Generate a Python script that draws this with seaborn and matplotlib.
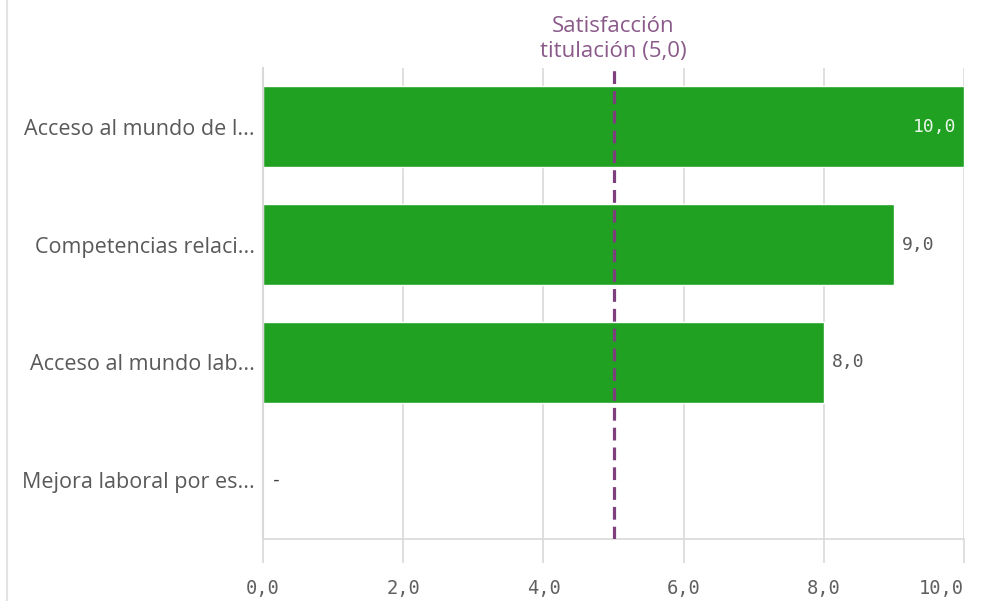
import numpy as np
import pandas as pd
import matplotlib.pyplot as plt
import seaborn as sns

# Datos
categorias = ["Acceso al mundo de l...", "Competencias relaci...",
              "Acceso al mundo lab...", "Mejora laboral por es..."]
valores = [10.0, 9.0, 8.0, np.nan]
ref_valor = 5.0
ref_texto = "Satisfacción\ntitulación (5,0)"
xticks = [0, 2, 4, 6, 8, 10]

VERDE = "#21a121"
MORADO = "#7e3f7f"
GRIS_TXT = "#595959"
GRIS_LINEA = "#d9d9d9"

df = pd.DataFrame({"categoria": categorias, "valor": valores})

sns.set_theme(style="whitegrid")
plt.rcParams["font.family"] = ["Open Sans", "DejaVu Sans"]

fig = plt.figure(figsize=(9.83, 6.01), dpi=100)
ax = fig.add_axes([0.2676, 0.1032, 0.7131, 0.7837])

sns.barplot(data=df, y="categoria", x="valor", color=VERDE, orient="h",
            width=0.69, saturation=1, ax=ax)

ax.set_xlim(0, 10)
ax.set_ylim(3.5, -0.5)
ax.set_xticks(xticks)
etiquetas = ax.set_xticklabels([f"{t:.1f}".replace(".", ",") for t in xticks],
                               family="DejaVu Sans Mono", fontsize=13.5, color="#606060")
etiquetas[-1].set_horizontalalignment("right")
ax.set_xlabel("")
ax.set_ylabel("")
ax.tick_params(axis="y", length=0, pad=6, labelsize=15.5, labelcolor=GRIS_TXT)
ax.tick_params(axis="x", bottom=True, length=17, width=1.2, color=GRIS_LINEA, pad=12)

# Rejilla y bordes
ax.grid(axis="x", color=GRIS_LINEA, linewidth=1.2)
ax.grid(axis="y", visible=False)
for lado in ["top", "right"]:
    ax.spines[lado].set_visible(False)
ax.spines["left"].set_color(GRIS_LINEA)
ax.spines["bottom"].set_color(GRIS_LINEA)
ax.spines["left"].set_linewidth(1.5)
ax.spines["bottom"].set_linewidth(1.2)

# Línea de referencia
ax.axvline(ref_valor, color=MORADO, linestyle=(0, (4, 2.2)), linewidth=2.3, zorder=5)
ax.text(ref_valor, -0.55, ref_texto, ha="center", va="bottom", fontsize=16,
        color="#8a5a8a", linespacing=1.25)

# Etiquetas de valor
for i, v in enumerate(valores):
    if np.isnan(v):
        ax.annotate("-", (0, i), xytext=(8, 0), textcoords="offset pixels",
                    ha="left", va="center", fontsize=13, color="#404040",
                    family="DejaVu Sans Mono")
    elif v >= 10:
        ax.annotate(f"{v:.1f}".replace(".", ","), (v, i), xytext=(-8, 0),
                    textcoords="offset pixels", ha="right", va="center",
                    fontsize=13, color="#e8f5e8", family="DejaVu Sans Mono")
    else:
        ax.annotate(f"{v:.1f}".replace(".", ","), (v, i), xytext=(8, 0),
                    textcoords="offset pixels", ha="left", va="center",
                    fontsize=13, color=GRIS_TXT, family="DejaVu Sans Mono")

# Borde del panel a la izquierda
fig.add_artist(plt.Line2D([0.007, 0.007], [0, 1], color="#e3e3e3", linewidth=1.5))

plt.savefig("out.png", dpi=100)
plt.close()
